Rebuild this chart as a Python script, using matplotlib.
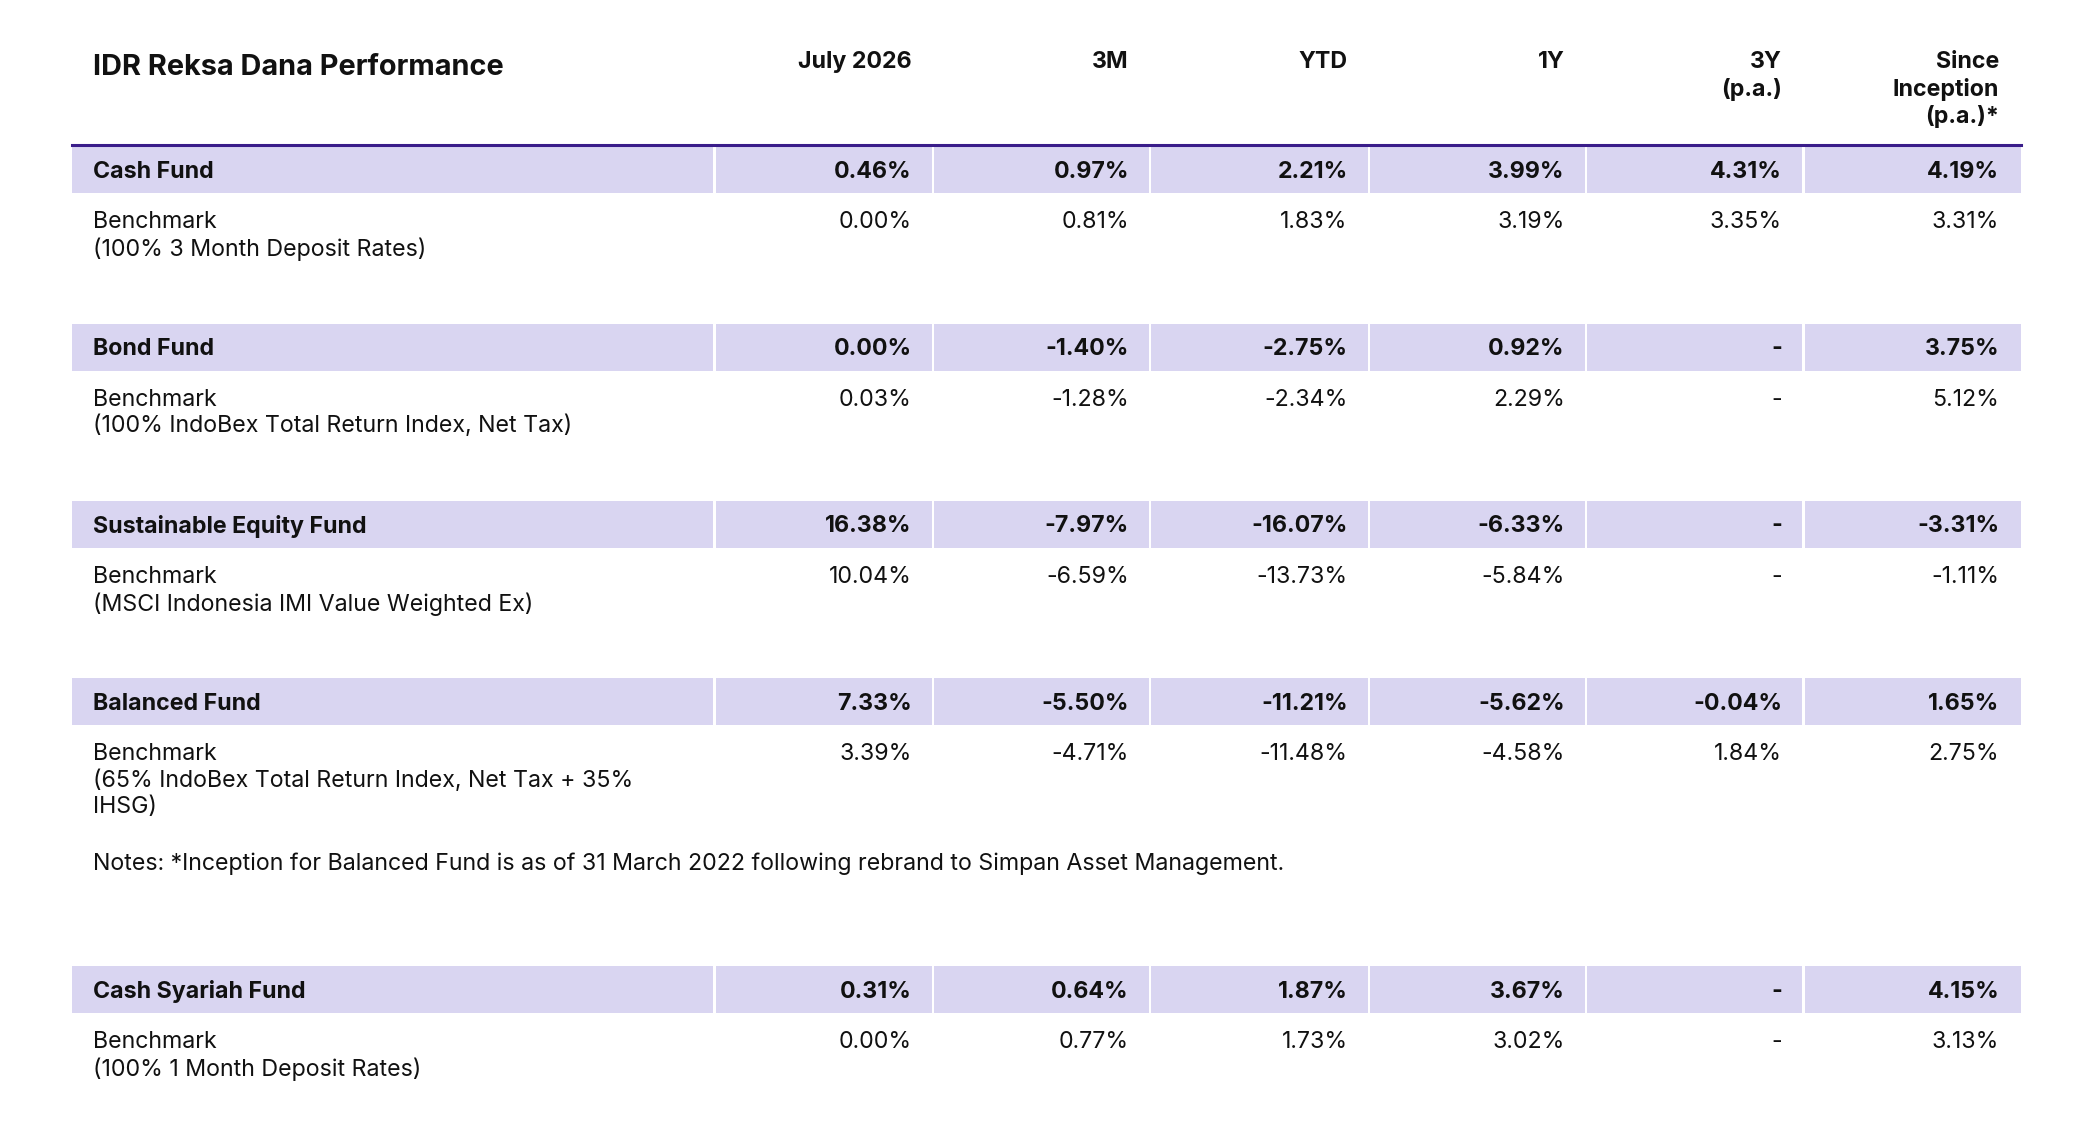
import matplotlib.pyplot as plt
from matplotlib.patches import Rectangle

plt.rcParams['font.family'] = ['Inter', 'DejaVu Sans']

title = 'IDR Reksa Dana Performance'
headers = ['July 2026', '3M', 'YTD', '1Y', '3Y\n(p.a.)', 'Since\nInception\n(p.a.)*']
funds = ['Cash Fund', 'Bond Fund', 'Sustainable Equity Fund', 'Balanced Fund', 'Cash Syariah Fund']
fund_vals = [
    ['0.46%', '0.97%', '2.21%', '3.99%', '4.31%', '4.19%'],
    ['0.00%', '-1.40%', '-2.75%', '0.92%', '-', '3.75%'],
    ['16.38%', '-7.97%', '-16.07%', '-6.33%', '-', '-3.31%'],
    ['7.33%', '-5.50%', '-11.21%', '-5.62%', '-0.04%', '1.65%'],
    ['0.31%', '0.64%', '1.87%', '3.67%', '-', '4.15%'],
]
bench_names = [
    'Benchmark\n(100% 3 Month Deposit Rates)',
    'Benchmark\n(100% IndoBex Total Return Index, Net Tax)',
    'Benchmark\n(MSCI Indonesia IMI Value Weighted Ex)',
    'Benchmark\n(65% IndoBex Total Return Index, Net Tax + 35%\nIHSG)',
    'Benchmark\n(100% 1 Month Deposit Rates)',
]
bench_vals = [
    ['0.00%', '0.81%', '1.83%', '3.19%', '3.35%', '3.31%'],
    ['0.03%', '-1.28%', '-2.34%', '2.29%', '-', '5.12%'],
    ['10.04%', '-6.59%', '-13.73%', '-5.84%', '-', '-1.11%'],
    ['3.39%', '-4.71%', '-11.48%', '-4.58%', '1.84%', '2.75%'],
    ['0.00%', '0.77%', '1.73%', '3.02%', '-', '3.13%'],
]
note = 'Notes: *Inception for Balanced Fund is as of 31 March 2022 following rebrand to Simpan Asset Management.'

S = 2090 / 1568
band_tops = [110, 243, 376, 509, 725]  # in preview units
col_edges = [54, 536, 700, 863, 1027, 1190, 1353, 1516]
band_h = 35
purple = '#3a1d8a'
lav = '#d9d5f1'
txt = '#111111'
fs = 16.7

fig = plt.figure(figsize=(20.9, 11.24), dpi=100)
ax = fig.add_axes([0, 0, 1, 1])
ax.set_xlim(0, 2090)
ax.set_ylim(1124, 0)
ax.axis('off')

ax.text(70 * S, 50.5 * S, title, fontsize=20.8, fontweight='bold', va='center', color=txt)
for i, h in enumerate(headers):
    ax.text((col_edges[i + 2] - 16) * S, 38.5 * S, h, fontsize=fs, fontweight='bold',
            ha='right', va='top', color=txt, linespacing=1.25)
ax.plot([col_edges[0] * S, col_edges[-1] * S], [108.5 * S, 108.5 * S], color=purple, lw=2.2)

for k, top in enumerate(band_tops):
    for c in range(len(col_edges) - 1):
        x0 = col_edges[c] * S + (1.2 if c else 0)
        x1 = col_edges[c + 1] * S - (1.2 if c < len(col_edges) - 2 else 0)
        ax.add_patch(Rectangle((x0, top * S), x1 - x0, band_h * S, color=lav, lw=0))
    yc = (top + band_h / 2 + 1.5) * S
    ax.text(70 * S, yc, funds[k], fontsize=fs, fontweight='bold', va='center', color=txt)
    for c, v in enumerate(fund_vals[k]):
        ax.text((col_edges[c + 2] - 16) * S, yc, v, fontsize=fs, fontweight='bold',
                ha='right', va='center', color=txt)
    yb = (top + band_h + 13.5) * S
    ax.text(70 * S, yb, bench_names[k], fontsize=fs, va='top', color=txt, linespacing=1.25)
    for c, v in enumerate(bench_vals[k]):
        ax.text((col_edges[c + 2] - 16) * S, yb, v, fontsize=fs, ha='right', va='top', color=txt)

ax.text(70 * S, 648 * S, note, fontsize=fs, va='center', color=txt)

fig.savefig('out.png', dpi=100, facecolor='white')
